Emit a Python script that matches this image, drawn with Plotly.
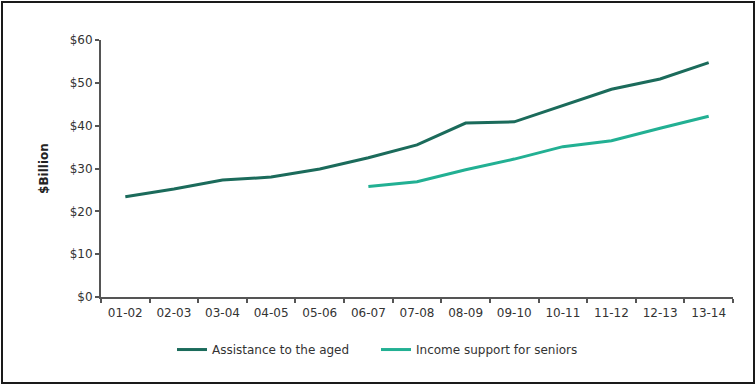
import plotly.graph_objects as go

years = ["01-02", "02-03", "03-04", "04-05", "05-06", "06-07", "07-08",
         "08-09", "09-10", "10-11", "11-12", "12-13", "13-14"]
assistance_aged = [23.4, 25.2, 27.3, 28.0, 29.9, 32.5, 35.5, 40.6, 40.9, 44.7, 48.5, 50.9, 54.7]
income_support_seniors = [None, None, None, None, None, 25.8, 26.9, 29.7, 32.2, 35.1, 36.5, 39.4, 42.2]
y_ticks = [0, 10, 20, 30, 40, 50, 60]
y_labels = ["$0", "$10", "$20", "$30", "$40", "$50", "$60"]

font_fam = "DejaVu Sans"
txt_col = "#333333"

fig = go.Figure()
fig.add_trace(go.Scatter(x=years, y=assistance_aged, mode="lines",
                         name="Assistance to the aged",
                         line=dict(color="#1b6b5b", width=3)))
fig.add_trace(go.Scatter(x=years, y=income_support_seniors, mode="lines",
                         name="Income support for seniors",
                         line=dict(color="#22b093", width=3)))

fig.update_layout(
    width=756, height=385,
    margin=dict(l=101, r=23, t=40, b=88),
    paper_bgcolor="white", plot_bgcolor="white",
    font=dict(family=font_fam, size=12, color=txt_col),
    showlegend=True,
    legend=dict(orientation="h", x=(172 - 101) / 632, xanchor="left", y=-0.148, yanchor="top",
                font=dict(size=12, color=txt_col), itemwidth=30,
                entrywidth=159, bgcolor="rgba(0,0,0,0)"),
    xaxis=dict(type="category", range=[-0.5, len(years) - 0.5],
               showline=True, linecolor="#555555", linewidth=2,
               ticks="outside", tickson="boundaries", ticklen=4, tickcolor="#555555",
               tickwidth=2, showgrid=False, zeroline=False, ticklabelstandoff=4,
               tickfont=dict(size=12, color=txt_col)),
    yaxis=dict(range=[0, 60], tickvals=y_ticks, ticktext=y_labels,
               showline=True, linecolor="#555555", linewidth=2,
               ticks="outside", ticklen=4, tickcolor="#555555", tickwidth=2,
               showgrid=False, zeroline=False,
               tickfont=dict(size=12, color=txt_col),
               title=dict(text="<b>$Billion</b>", font=dict(size=12, color="#222222"),
                          standoff=18)),
    shapes=[dict(type="rect", xref="paper", yref="paper",
                 x0=-101/632 + 2/632, x1=1 + 21/632, y0=-86/257, y1=1 + 38/257,
                 line=dict(color="#1a1a1a", width=2), fillcolor="rgba(0,0,0,0)")],
)

fig.write_html("out.html")
